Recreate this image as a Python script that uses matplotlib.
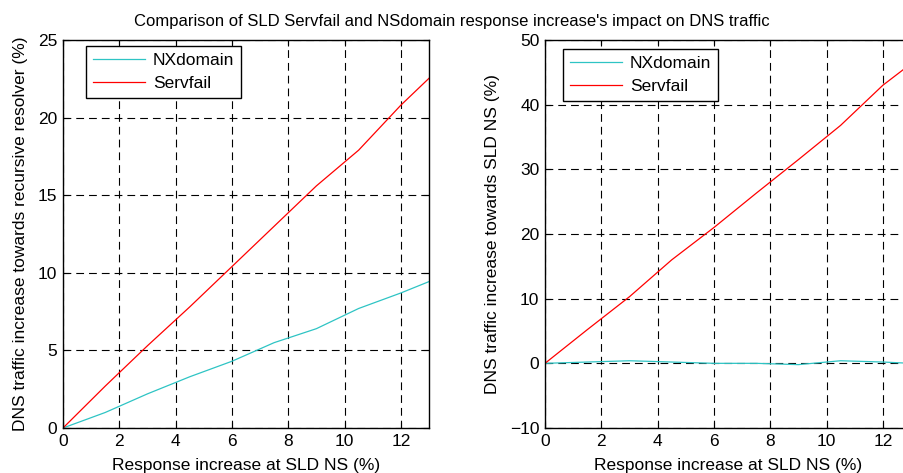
import numpy as np
import matplotlib
matplotlib.use("Agg")
import matplotlib.pyplot as plt

plt.rcParams['font.family'] = ['Liberation Sans', 'DejaVu Sans']

# response increase at SLD NS (%)
x = [0, 1.5, 3, 4.5, 6, 7.5, 9, 10.5, 12, 13.5]

# traffic towards recursive resolver (%)
res_nx = [0, 1.0, 2.2, 3.3, 4.3, 5.5, 6.4, 7.7, 8.7, 9.8]
res_sf = [0, 2.7, 5.3, 7.8, 10.4, 13.0, 15.6, 17.9, 20.8, 23.4]

# traffic towards SLD NS (%)
ns_nx = [0, 0.2, 0.4, 0.2, 0.0, 0.0, -0.2, 0.4, 0.2, -0.1]
ns_sf = [0, 5.2, 10.3, 16.0, 21.0, 26.3, 31.5, 36.8, 43.0, 48.0]

cyan = '#2ec4c4'
red = '#ff0000'

fig = plt.figure(figsize=(9.04, 4.73), dpi=100)
ax1 = fig.add_axes([63/904, 45/473, 366/904, 388/473])
ax2 = fig.add_axes([545/904, 45/473, 366/904, 388/473])


def style(ax, nx, sf, ylim, yticks, ylabel, leg_at):
    ax.plot(x, nx, color=cyan, lw=0.9, label='NXdomain')
    ax.plot(x, sf, color=red, lw=0.9, label='Servfail')
    ax.set_xlim(0, 13)
    ax.set_ylim(*ylim)
    ax.set_xticks(range(0, 13, 2))
    ax.set_yticks(yticks)
    ax.grid(True, color='black', ls=(0, (7, 4.5)), lw=0.8)
    ax.set_axisbelow(True)
    ax.tick_params(direction='in', top=True, right=True, labelsize=12.5, length=4, pad=4)
    for s in ax.spines.values():
        s.set_linewidth(1.0)
    ax.set_xlabel('Response increase at SLD NS (%)', fontsize=12.5, labelpad=7)
    ax.set_ylabel(ylabel, fontsize=12.5, labelpad=7)
    leg = ax.legend(loc='upper left', bbox_to_anchor=leg_at, fontsize=12.5, fancybox=False,
                    framealpha=1, edgecolor='black', borderaxespad=0, handlelength=3.0,
                    handletextpad=0.45, borderpad=0.4, labelspacing=0.45)
    leg.get_frame().set_linewidth(1.0)


style(ax1, res_nx, res_sf, (0, 25), range(0, 26, 5),
      'DNS traffic increase towards recursive resolver (%)', (23/366, 1 - 6/388))
style(ax2, ns_nx, ns_sf, (-10, 50), range(-10, 51, 10),
      'DNS traffic increase towards SLD NS (%)', (18/366, 1 - 9/388))

fig.text(0.5, 1 - 21/473, "Comparison of SLD Servfail and NSdomain response increase's impact on DNS traffic",
         ha='center', va='center', fontsize=12)

fig.savefig('out.png', dpi=100)
